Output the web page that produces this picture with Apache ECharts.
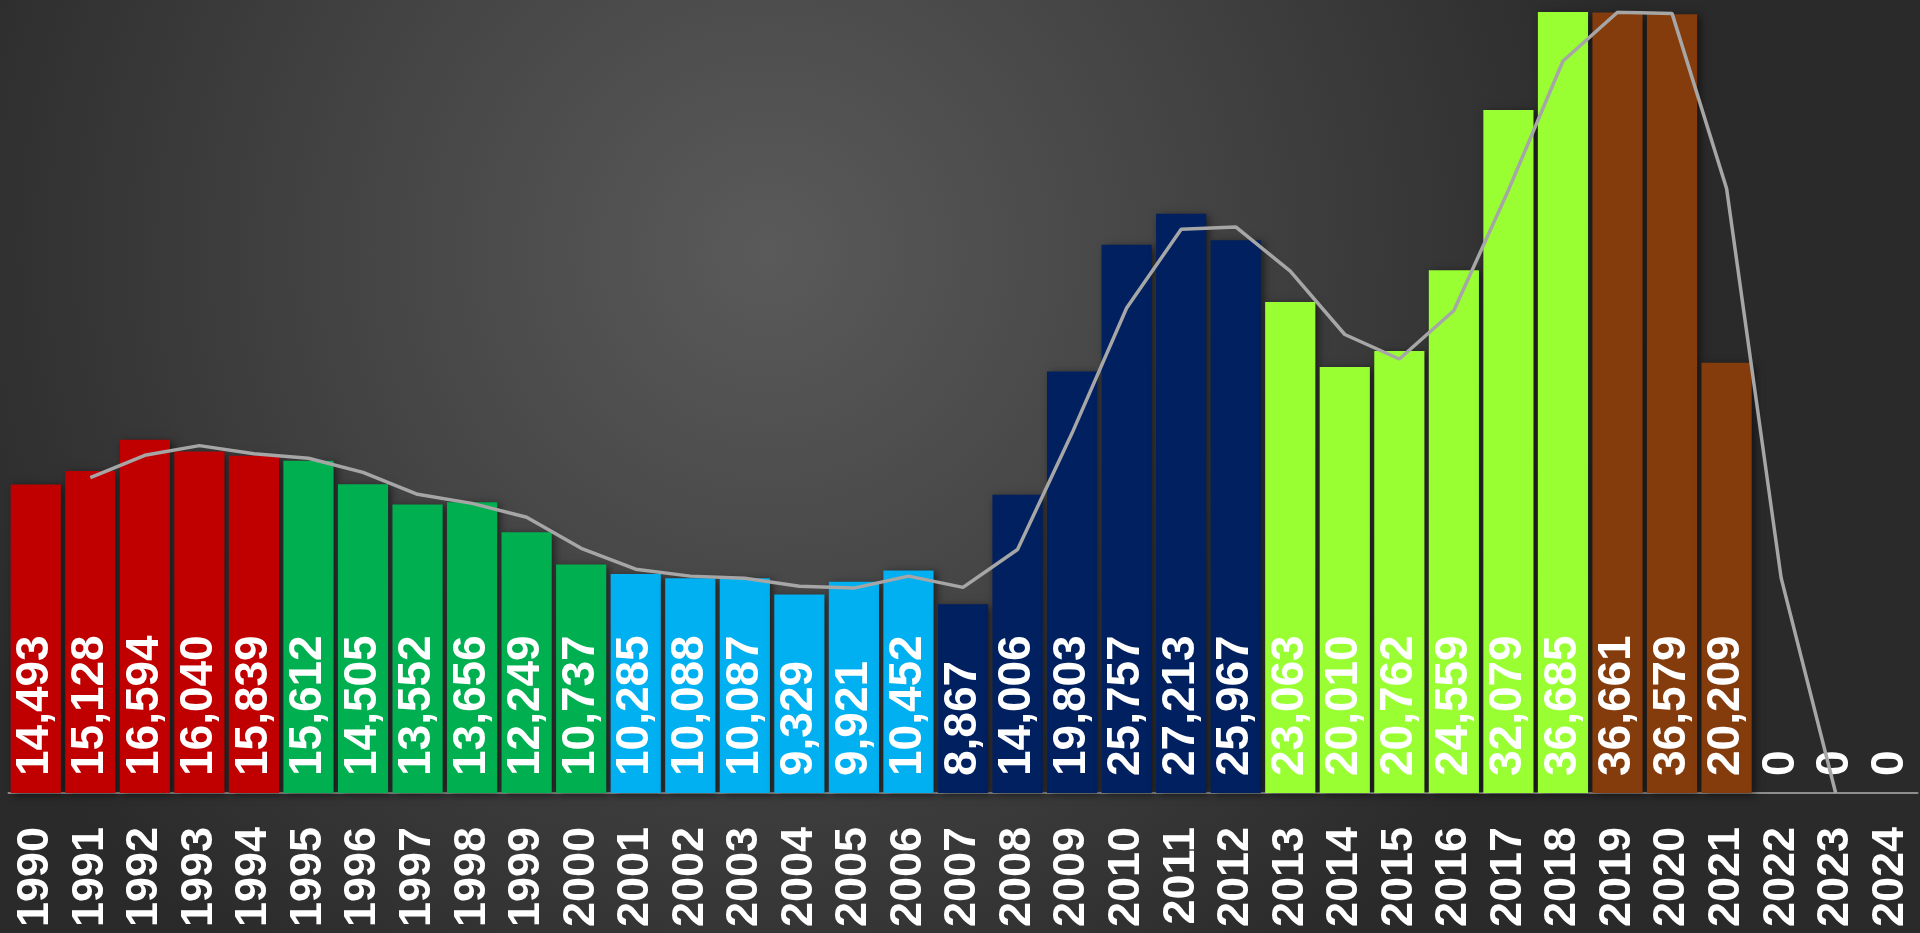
<!DOCTYPE html>
<html>
<head>
<meta charset="utf-8">
<style>
html,body{margin:0;padding:0;width:1920px;height:933px;overflow:hidden;background:#2b2b2b;}
#c{width:1920px;height:933px;}
</style>
<script src="https://cdn.jsdelivr.net/npm/echarts@6/dist/echarts.min.js"></script>
</head>
<body>
<div id="c"></div>
<script>
// categories
const years = ['1990','1991','1992','1993','1994','1995','1996','1997','1998','1999','2000','2001','2002','2003','2004','2005','2006','2007','2008','2009','2010','2011','2012','2013','2014','2015','2016','2017','2018','2019','2020','2021','2022','2023','2024'];
// bar values
const values = [14493,15128,16594,16040,15839,15612,14505,13552,13656,12249,10737,10285,10088,10087,9329,9921,10452,8867,14006,19803,25757,27213,25967,23063,20010,20762,24559,32079,36685,36661,36579,20209,0,0,0];
// trend line values (null where not drawn)
const trend = [null,14811,15861,16317,15940,15726,15059,14029,13604,12953,11493,10511,10187,10088,9708,9625,10187,9660,11437,16905,22780,26485,26590,24515,21537,20386,22661,28319,34382,36673,36620,28394,10105,0,null];
// period group of each category (index into palette)
const period = [0,0,0,0,0,1,1,1,1,1,1,2,2,2,2,2,2,3,3,3,3,3,3,4,4,4,4,4,4,5,5,5,5,5,5];
const palette = ['#C00000','#00B050','#00B0F0','#002060','#99FF33','#843C0C'];

const chart = echarts.init(document.getElementById('c'), null, {renderer:'canvas'});
const FONT = '"Liberation Sans", Arial, sans-serif';
chart.setOption({
  animation:false,
  backgroundColor:{type:'radial',x:0.4,y:0.27,r:0.95,colorStops:[
    {offset:0,color:'#5a5a5a'},{offset:0.45,color:'#454545'},{offset:1,color:'#2a2a2a'}]},
  grid:{left:8.5,right:2.5,top:12,bottom:140},
  xAxis:{type:'category',data:years,
    axisLine:{show:true,lineStyle:{color:'rgba(210,210,210,0.6)',width:2}},
    axisTick:{show:false},
    axisLabel:{rotate:90,margin:34,color:'#ffffff',fontFamily:FONT,fontWeight:'bold',fontSize:45,interval:0}},
  yAxis:{type:'value',min:0,max:36685,show:false,splitLine:{show:false}},
  series:[
    {type:'bar',barCategoryGap:'8%',
     data:values.map((v,i)=>({value:v,itemStyle:{color:palette[period[i]]}})),
     itemStyle:{shadowColor:'rgba(0,0,0,0.55)',shadowBlur:8,shadowOffsetX:3,shadowOffsetY:2},
     label:{show:true,position:'insideBottom',rotate:90,align:'left',verticalAlign:'middle',distance:17,
       color:'#ffffff',fontFamily:FONT,fontWeight:'bold',fontSize:46,
       formatter:p=>p.value.toLocaleString('en-US')}},
    {type:'line',data:trend,symbol:'none',smooth:false,z:3,
     lineStyle:{color:'#A6A6A6',width:3.5}}
  ]
});
</script>
</body>
</html>
